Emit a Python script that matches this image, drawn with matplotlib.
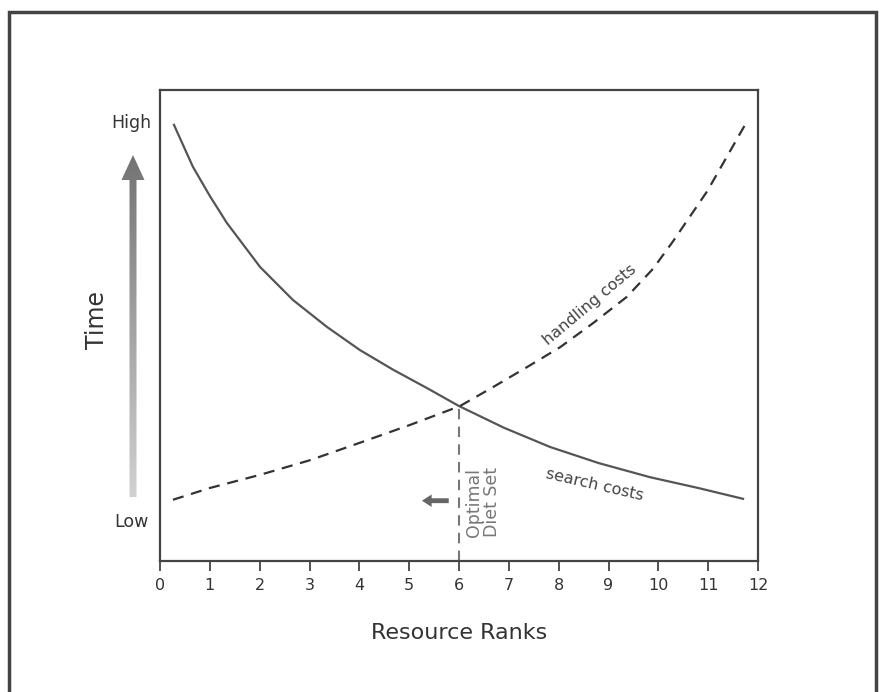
import numpy as np
import matplotlib
matplotlib.use('Agg')
import matplotlib.pyplot as plt
from matplotlib.patches import Polygon

# values (x = resource rank, y = relative time 0-10)
search_x = [0.28, 0.66, 1.0, 1.34, 2.01, 2.67, 3.35, 4.01, 4.68, 5.36, 6.0, 6.9, 7.83, 8.8, 9.83, 10.8, 11.7]
search_y = [9.26, 8.37, 7.75, 7.18, 6.24, 5.54, 4.97, 4.48, 4.06, 3.67, 3.29, 2.83, 2.42, 2.08, 1.78, 1.55, 1.32]
handle_x = [0.26, 1.0, 2.01, 3.01, 4.01, 5.02, 6.02, 6.68, 7.37, 8.03, 8.69, 9.37, 9.89, 10.29, 10.98, 11.74]
handle_y = [1.30, 1.55, 1.83, 2.14, 2.51, 2.89, 3.29, 3.69, 4.12, 4.54, 5.05, 5.61, 6.2, 6.78, 7.85, 9.26]
optimal_rank = 6.0
optimal_time = 3.29
xticks = list(range(0, 13))

W, H = 881, 692
fig = plt.figure(figsize=(W / 100, H / 100), dpi=100)
fig.patch.set_facecolor('white')

# overlay in pixel coords for the frame and the Time arrow
deco = fig.add_axes([0, 0, 1, 1], zorder=0)
deco.set_xlim(0, W)
deco.set_ylim(H, 0)
deco.axis('off')
deco.plot([9, 9, 876, 876], [H, 12, 12, H], color='#444444', lw=2.5, solid_joinstyle='miter')

arrow_pts = [(129.5, 497), (136.5, 497), (136.5, 180), (144.5, 180), (133, 155),
             (121.5, 180), (129.5, 180)]
poly = Polygon(arrow_pts, closed=True, facecolor='none', edgecolor='none')
deco.add_patch(poly)
grad = np.linspace(0.82, 0.45, 256).reshape(-1, 1)
im = deco.imshow(grad, cmap='gray', vmin=0, vmax=1, extent=[118, 148, 498, 154],
                 aspect='auto', origin='lower', interpolation='bilinear')
im.set_clip_path(poly)

deco.text(131, 123, 'High', fontsize=12.5, color='#333333', ha='center', va='center')
deco.text(131, 522, 'Low', fontsize=12.5, color='#333333', ha='center', va='center')
deco.text(97, 320, 'Time', fontsize=17, color='#333333', ha='center', va='center', rotation=90)

ax = fig.add_axes([160 / W, 1 - 561 / H, 598 / W, 471 / H], zorder=1)
ax.patch.set_alpha(0)
ax.plot(search_x, search_y, color='#555555', lw=1.6)
ax.plot(handle_x, handle_y, color='#333333', lw=1.6, dashes=(5, 3.5))
ax.plot([optimal_rank, optimal_rank], [0, optimal_time], color='#777777', lw=1.5, dashes=(5, 3.5))

ax.set_xlim(0, 12)
ax.set_ylim(0, 10)
ax.set_xticks(xticks)
ax.set_yticks([])
ax.tick_params(axis='x', direction='out', length=7, width=1.3, color='#444444',
               labelsize=11.5, labelcolor='#333333', pad=5)
for s in ax.spines.values():
    s.set_color('#444444')
    s.set_linewidth(1.6)
ax.set_xlabel('Resource Ranks', fontsize=16, color='#333333', labelpad=22)

ax.text(6.13, 0.5, 'Optimal\nDiet Set', rotation=90, fontsize=12.5, color='#777777',
        ha='left', va='bottom', multialignment='left', linespacing=1.0)
ax.annotate('', xy=(5.2, 1.28), xytext=(5.85, 1.28),
            arrowprops=dict(arrowstyle='simple,head_width=0.9,head_length=0.7,tail_width=0.35',
                            color='#666666', lw=0))
ax.text(8.73, 1.62, 'search costs', rotation=-13, fontsize=11.5, color='#444444',
        ha='center', va='center')
ax.text(8.63, 5.44, 'handling costs', rotation=40, fontsize=11.5, color='#444444',
        ha='center', va='center')

fig.savefig('out.png', dpi=100)
